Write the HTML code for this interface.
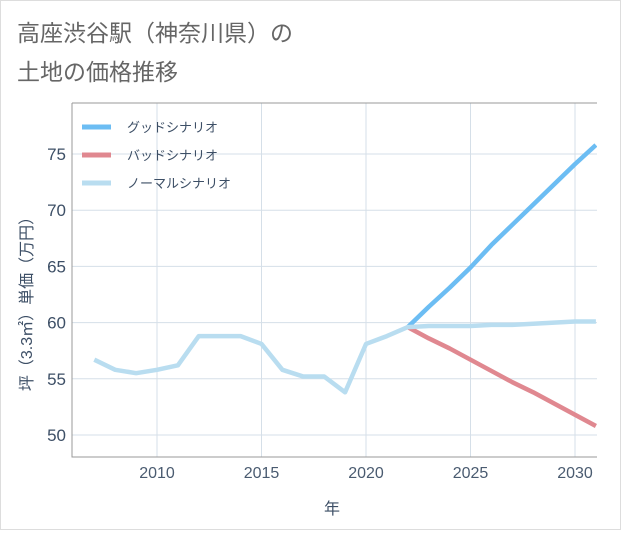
<!DOCTYPE html>
<html><head><meta charset="utf-8"><style>
body{margin:0;background:#fff;font-family:"Liberation Sans","Noto Sans CJK JP",sans-serif}
</style></head><body>
<svg width="621" height="530" xmlns="http://www.w3.org/2000/svg" style="font-family:'Liberation Sans','Noto Sans CJK JP',sans-serif">
<rect x="0.5" y="0.5" width="620" height="529" fill="#fff" stroke="#ddd"/>
<text x="17" y="41" font-size="23" fill="#666">高座渋谷駅（神奈川県）の</text>
<text x="17" y="80" font-size="23" fill="#666">土地の価格推移</text>
<g id="grid"></g><g id="axes"></g><g id="series"></g><g id="legend"></g>
<text x="332" y="514" font-size="16" fill="#3d4f66" text-anchor="middle">年</text>
<text transform="translate(32,300) rotate(-90)" font-size="16" fill="#3d4f66" text-anchor="middle">坪（3.3㎡）単価（万円）</text>
</svg>
<script>
const years=[2007,2008,2009,2010,2011,2012,2013,2014,2015,2016,2017,2018,2019,2020,2021,2022,2023,2024,2025,2026,2027,2028,2029,2030,2031];
const normal=[56.7,55.8,55.5,55.8,56.2,58.8,58.8,58.8,58.1,55.8,55.2,55.2,53.8,58.1,58.8,59.6,59.7,59.7,59.7,59.8,59.8,59.9,60.0,60.1,60.1];
const goodYears=[2022,2023,2024,2025,2026,2027,2028,2029,2030,2031];
const good=[59.6,61.4,63.1,64.9,66.9,68.7,70.5,72.3,74.1,75.8];
const bad=[59.6,58.6,57.7,56.7,55.7,54.7,53.8,52.8,51.8,50.8];
const xTicks=[2010,2015,2020,2025,2030];
const yTicks=[50,55,60,65,70,75];
const seriesNames=["グッドシナリオ","バッドシナリオ","ノーマルシナリオ"];
const NS="http://www.w3.org/2000/svg";
const L=72,R=597,T=103,B=457;
const x=v=>157+(v-2010)*20.9;
const y=v=>435-(v-50)*11.24;
function mk(t,a,p){const e=document.createElementNS(NS,t);for(const k in a)e.setAttribute(k,a[k]);p.appendChild(e);return e;}
const g=document.getElementById('grid'),ax=document.getElementById('axes'),s=document.getElementById('series'),lg=document.getElementById('legend');
xTicks.forEach(v=>{const l=mk('line',{x1:x(v),x2:x(v),y1:T,y2:B,stroke:'#d5dfe8'},g);

const t=mk('text',{x:x(v),y:478,'font-size':16,fill:'#4a5b70','text-anchor':'middle'},ax);t.textContent=v;
});
yTicks.forEach(v=>{const l=mk('line',{x1:L,x2:R,y1:y(v),y2:y(v),stroke:'#d5dfe8'},g);

const t=mk('text',{x:66,y:y(v)+6,'font-size':17,fill:'#3d4f66','text-anchor':'end'},ax);t.textContent=v;
});
const fr=mk('path',{d:`M${L},${T}V${B}H${R}M${L},${T}H${R}`,fill:'none',stroke:'#999'},ax);

function line(xs,ys,c,n){const p=mk('polyline',{points:xs.map((v,i)=>x(v)+','+y(ys[i])).join(' '),fill:'none',stroke:c,'stroke-width':4.5,'stroke-linejoin':'round'},s);
}
s.innerHTML='<clipPath id="c"><rect x="'+L+'" y="'+T+'" width="'+(R-L)+'" height="'+(B-T)+'"/></clipPath>';
s.setAttribute('clip-path','url(#c)');
line(goodYears,good,'#6cbdf3','good-line');
line(goodYears,bad,'#e08890','bad-line');
line(years,normal,'#b9ddf0','normal-line');
const cols=['#6cbdf3','#e08890','#b9ddf0'];
seriesNames.forEach((n,i)=>{const yy=127+i*28;
const l=mk('line',{x1:82,x2:111,y1:yy,y2:yy,stroke:cols[i],'stroke-width':5},lg);

const t=mk('text',{x:127,y:yy+5,'font-size':13,fill:'#3d4f66'},lg);t.textContent=n;
});
</script>
</body></html>
